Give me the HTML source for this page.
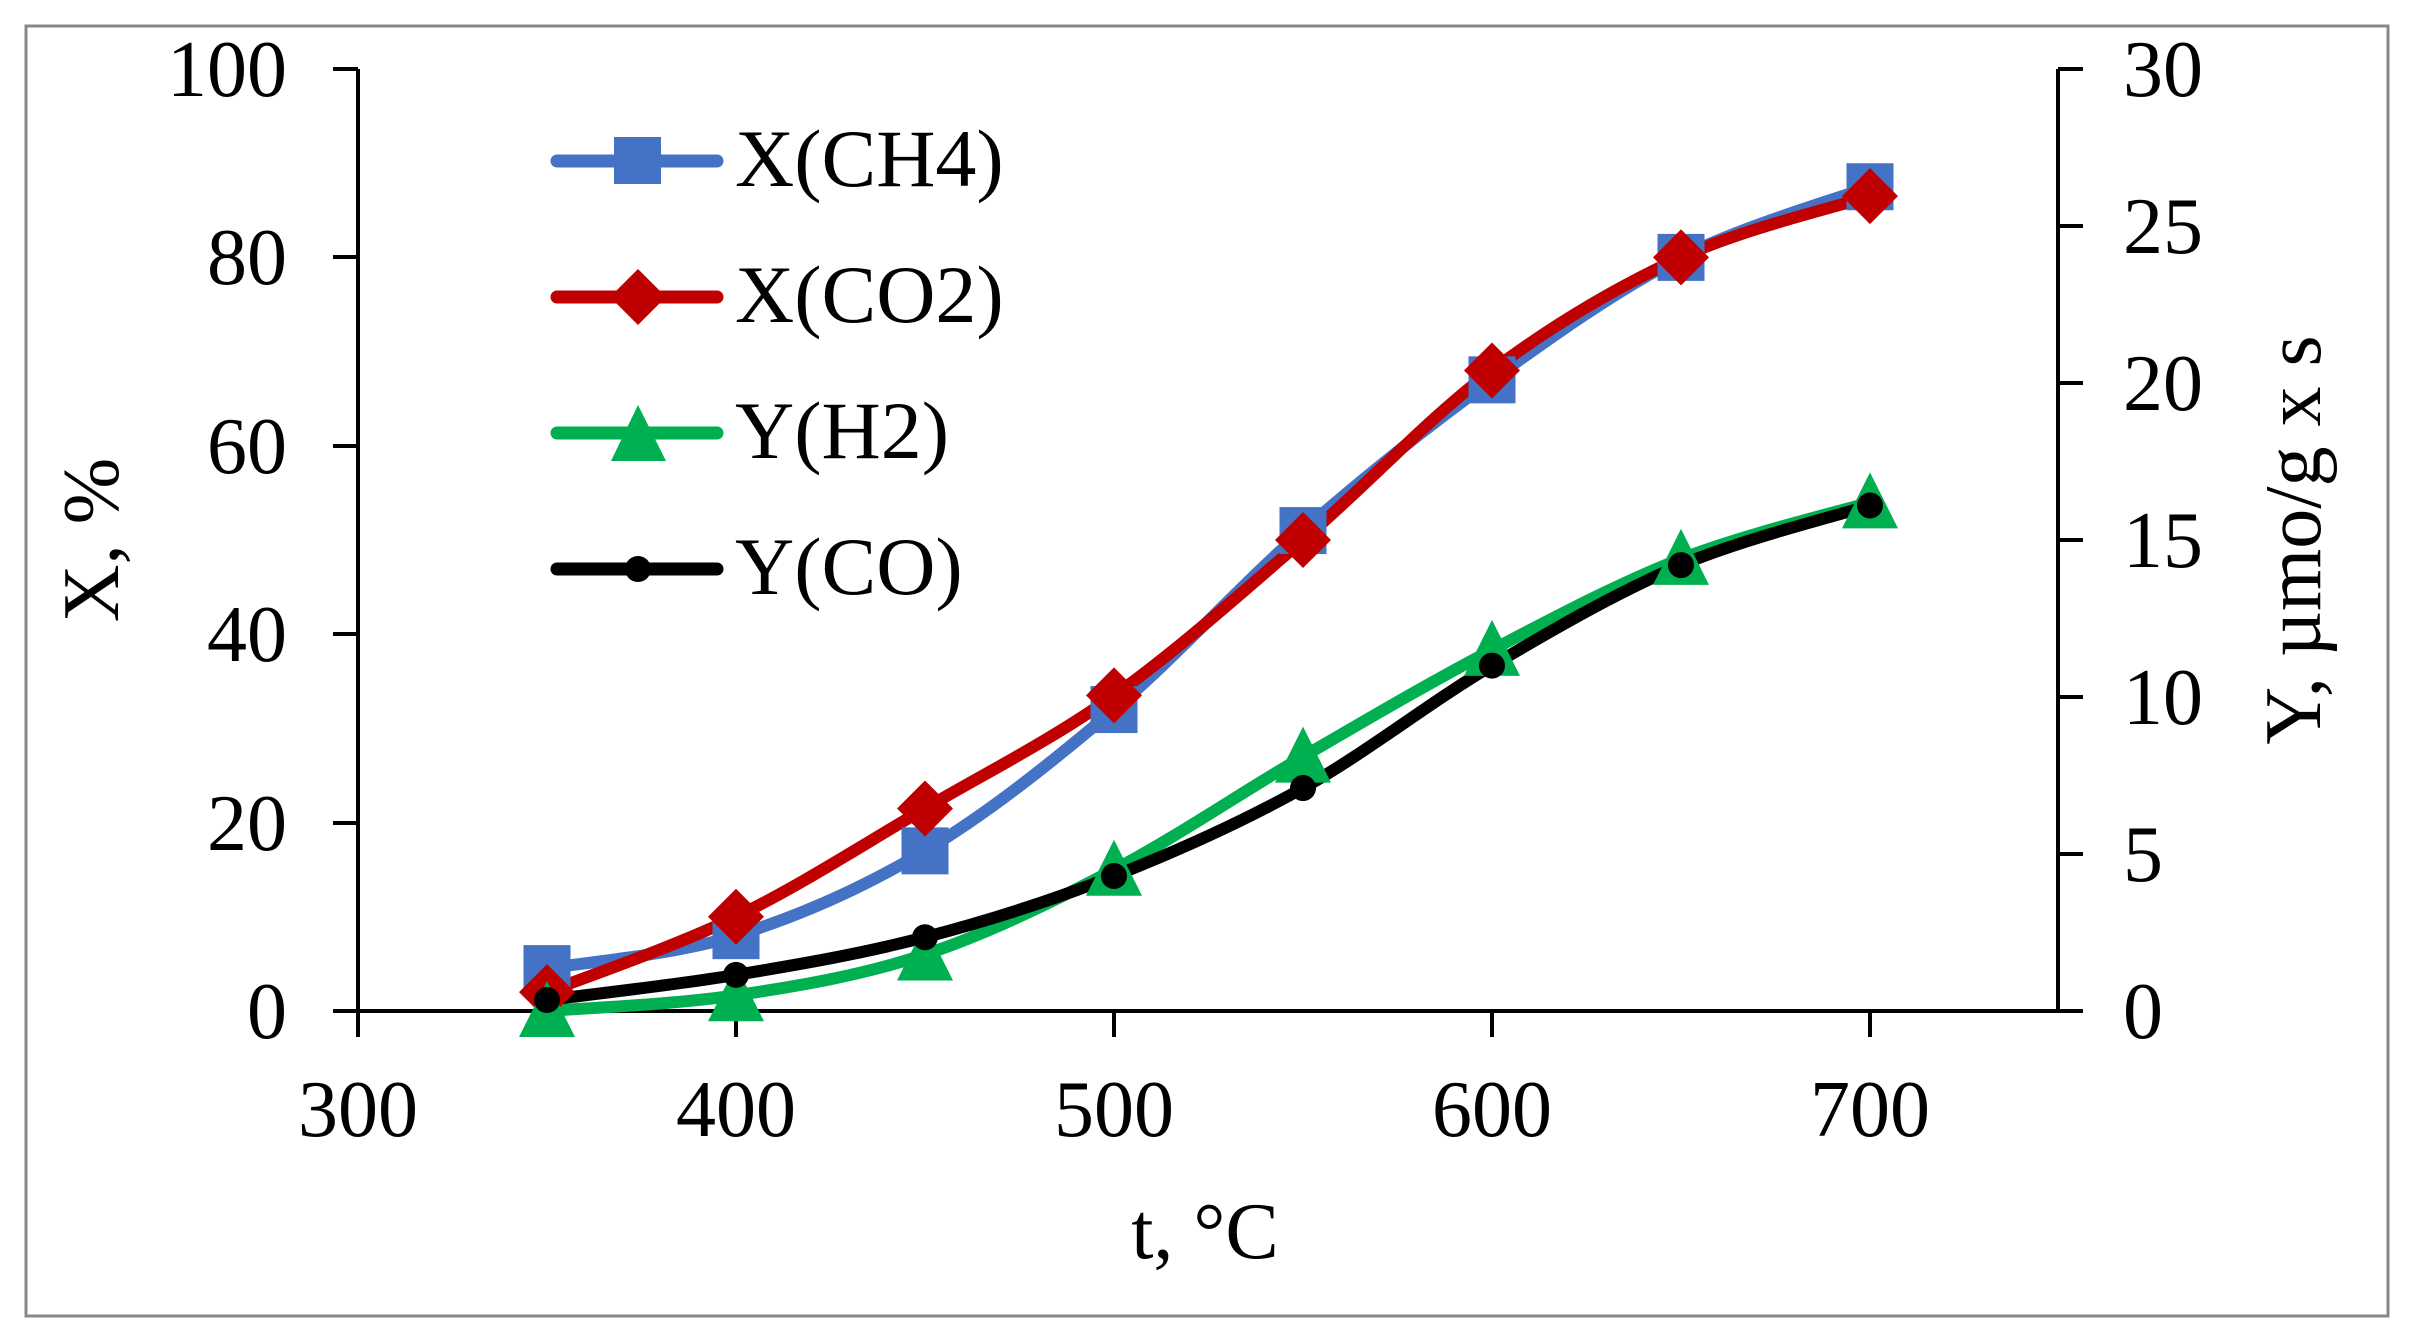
<!DOCTYPE html>
<html><head><meta charset="utf-8"><style>
html,body{margin:0;padding:0;background:#fff}
svg{display:block}
text{font-family:"Liberation Serif",serif;fill:#000}
</style></head><body>
<svg id="s" width="2414" height="1344" xmlns="http://www.w3.org/2000/svg">
<rect x="26" y="26" width="2362" height="1290" fill="#fff" stroke="#888" stroke-width="3"/>
<g stroke="#000" stroke-width="4" fill="none">
<line x1="358" y1="69" x2="358" y2="1011"/>
<line x1="2058" y1="69" x2="2058" y2="1011"/>
<line x1="333" y1="1011" x2="2083" y2="1011"/>
<line x1="333" y1="69" x2="358" y2="69"/><line x1="333" y1="257" x2="358" y2="257"/><line x1="333" y1="446" x2="358" y2="446"/><line x1="333" y1="634" x2="358" y2="634"/><line x1="333" y1="823" x2="358" y2="823"/>
<line x1="2058" y1="69" x2="2083" y2="69"/><line x1="2058" y1="226" x2="2083" y2="226"/><line x1="2058" y1="383" x2="2083" y2="383"/><line x1="2058" y1="540" x2="2083" y2="540"/><line x1="2058" y1="697" x2="2083" y2="697"/><line x1="2058" y1="854" x2="2083" y2="854"/>
<line x1="358" y1="1011" x2="358" y2="1037"/><line x1="736" y1="1011" x2="736" y2="1037"/><line x1="1114" y1="1011" x2="1114" y2="1037"/><line x1="1492" y1="1011" x2="1492" y2="1037"/><line x1="1870" y1="1011" x2="1870" y2="1037"/>
</g>
<g font-size="80" text-anchor="end">
<text x="287" y="96">100</text><text x="287" y="284">80</text><text x="287" y="473">60</text><text x="287" y="661">40</text><text x="287" y="850">20</text><text x="287" y="1038">0</text>
</g>
<g font-size="80" text-anchor="start">
<text x="2123" y="96">30</text><text x="2123" y="253">25</text><text x="2123" y="410">20</text><text x="2123" y="567">15</text><text x="2123" y="724">10</text><text x="2123" y="881">5</text><text x="2123" y="1038">0</text>
</g>
<g font-size="80" text-anchor="middle">
<text x="358" y="1136">300</text><text x="736" y="1136">400</text><text x="1114" y="1136">500</text><text x="1492" y="1136">600</text><text x="1870" y="1136">700</text>
<text x="1205" y="1258">t, °C</text>
<text transform="translate(118,540) rotate(-90)">X, %</text>
<text transform="translate(2320,540) rotate(-90)">Y, µmo/g x s</text>
</g>
<g id="series"></g>
<g font-size="82">
<text x="735" y="186">X(CH4)</text><text x="735" y="322">X(CO2)</text><text x="735" y="458">Y(H2)</text><text x="735" y="594">Y(CO)</text>
</g>
<g stroke-linecap="round" stroke-width="13">
<line x1="557" y1="161" x2="717" y2="161" stroke="#4472C4"/>
<rect x="614" y="137" width="47" height="47" fill="#4472C4"/>
<line x1="557" y1="297" x2="717" y2="297" stroke="#C00000"/>
<polygon points="638,269 666,297 638,325 610,297" fill="#C00000"/>
<line x1="557" y1="433" x2="717" y2="433" stroke="#00B050"/>
<polygon points="638,405 666,461 611,461" fill="#00B050"/>
<line x1="557" y1="569" x2="717" y2="569" stroke="#000"/>
<circle cx="638" cy="569" r="13" fill="#000"/>
</g>
</svg>
<script>
var xs=[350,400,450,500,550,600,650,700];
function X(t){return 358+(t-300)*3.78}
function Yp(v){return 1011-v*9.42}
function Yr(v){return 1011-v*31.4}
var S=[
{c:"#4472C4",d:[4.5,8,17,32,51,67,80,87.5],f:Yp,m:"sq"},
{c:"#C00000",d:[2,10,21.5,33.5,50,68,80,86.5],f:Yp,m:"di"},
{c:"#00B050",d:[0,0.5,1.8,4.5,8.1,11.5,14.4,16.2],f:Yr,m:"tr"},
{c:"#000",d:[0.35,1.15,2.35,4.3,7.1,11,14.2,16.1],f:Yr,m:"ci"}];
var g=document.getElementById("series"),h="";
S.forEach(function(s){
 var p=xs.map(function(t,i){return [X(t),s.f(s.d[i])]});
 var d="M"+p[0][0]+","+p[0][1];
 for(var i=0;i<p.length-1;i++){
  var p0=p[i-1]||p[i],p1=p[i],p2=p[i+1],p3=p[i+2]||p2;
  var c1=[p1[0]+(p2[0]-p0[0])/6,p1[1]+(p2[1]-p0[1])/6],c2=[p2[0]-(p3[0]-p1[0])/6,p2[1]-(p3[1]-p1[1])/6];
  d+=" C"+c1+" "+c2+" "+p2;
 }
 h+='<path d="'+d+'" fill="none" stroke="'+s.c+'" stroke-width="12" stroke-linecap="round" stroke-linejoin="round"/>';
 s.p=p;
});
S.forEach(function(s){s.p.forEach(function(q){var x=q[0],y=q[1];
 if(s.m=="sq")h+='<rect x="'+(x-23.5)+'" y="'+(y-23.5)+'" width="47" height="47" fill="'+s.c+'"/>';
 if(s.m=="di")h+='<polygon points="'+x+','+(y-28)+' '+(x+28)+','+y+' '+x+','+(y+28)+' '+(x-28)+','+y+'" fill="'+s.c+'"/>';
 if(s.m=="tr")h+='<polygon points="'+x+','+(y-30)+' '+(x+28)+','+(y+26)+' '+(x-28)+','+(y+26)+'" fill="'+s.c+'"/>';
 if(s.m=="ci")h+='<circle cx="'+x+'" cy="'+y+'" r="13" fill="#000"/>';
});});
g.innerHTML=h;
</script>
</body></html>
